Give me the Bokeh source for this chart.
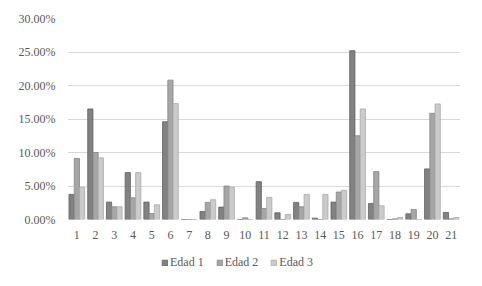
from bokeh.plotting import figure
from bokeh.layouts import column
from bokeh.models import ColumnDataSource, FixedTicker, NumeralTickFormatter, Legend, LegendItem, Range1d
from bokeh.transform import dodge
from bokeh.embed import file_html
from bokeh.resources import INLINE

categories = list(range(1, 22))
edad1 = [3.75, 16.5, 2.6, 7.0, 2.6, 14.6, 0.0, 1.2, 1.85, 0.0, 5.65, 1.0, 2.55, 0.2, 2.6, 25.2, 2.4, 0.0, 0.85, 7.55, 1.05]
edad2 = [9.1, 10.0, 1.9, 3.25, 0.9, 20.8, 0.0, 2.55, 5.0, 0.25, 1.65, 0.0, 1.9, 0.0, 4.1, 12.5, 7.15, 0.1, 1.5, 15.85, 0.1]
edad3 = [4.8, 9.2, 1.9, 7.0, 2.2, 17.3, 0.0, 2.95, 4.8, 0.0, 3.3, 0.75, 3.75, 3.75, 4.35, 16.5, 2.05, 0.3, 0.0, 17.25, 0.3]
series_names = ["Edad 1", "Edad 2", "Edad 3"]
y_ticks = [0.0, 0.05, 0.10, 0.15, 0.20, 0.25, 0.30]

fills = ["#828282", "#a6a6a6", "#cbcbcb"]
edges = ["#5f5f5f", "#858585", "#a9a9a9"]
font = "Liberation Serif"

src = ColumnDataSource(dict(
    x=categories,
    e1=[v / 100 for v in edad1],
    e2=[v / 100 for v in edad2],
    e3=[v / 100 for v in edad3],
))

p = figure(width=466, height=250, output_backend="svg", toolbar_location=None,
           x_range=Range1d(0.5, 21.5), y_range=Range1d(0, 0.30))
p.min_border_left = 67
p.min_border_right = 6
p.min_border_top = 18
p.min_border_bottom = 31
p.outline_line_color = None
p.background_fill_color = "white"
p.border_fill_color = "white"

bw = 0.28
for i, col in enumerate(["e1", "e2", "e3"]):
    p.vbar(x=dodge("x", (i - 1) * bw, range=p.x_range), top=col, width=bw, source=src,
           fill_color=fills[i], line_color=edges[i], line_width=0.8)

p.xgrid.visible = False
p.ygrid.grid_line_color = "#d9d9d9"
p.ygrid.grid_line_width = 1
p.ygrid.ticker = FixedTicker(ticks=y_ticks)

p.yaxis.ticker = FixedTicker(ticks=y_ticks)
p.yaxis.formatter = NumeralTickFormatter(format="0.00%")
p.xaxis.ticker = FixedTicker(ticks=categories)
for ax in (p.xaxis, p.yaxis):
    ax.axis_line_color = None
    ax.major_tick_line_color = None
    ax.minor_tick_line_color = None
    ax.major_tick_out = 0
    ax.major_tick_in = 0
    ax.minor_tick_out = 0
    ax.major_label_text_font = font
    ax.major_label_text_font_size = "12px"
    ax.major_label_text_color = "#595959"
p.xaxis.major_label_standoff = 11
p.yaxis.major_label_standoff = 12

# legend strip (its frame is aligned with the chart frame by the column layout)
q = figure(width=466, height=20, output_backend="svg", toolbar_location=None,
           x_range=Range1d(-10, -9), y_range=Range1d(-10, -9))
q.min_border_left = 67
q.min_border_right = 6
q.min_border_top = 0
q.min_border_bottom = 0
q.outline_line_color = None
q.axis.visible = False
q.grid.visible = False
leg_renderers = []
for i, col in enumerate(["e1", "e2", "e3"]):
    r = q.vbar(x="x", top=col, width=bw, source=src,
               fill_color=fills[i], line_color=edges[i], line_width=0.8)
    r.visible = False
    leg_renderers.append(r)

legend = Legend(items=[LegendItem(label=n, renderers=[r]) for n, r in zip(series_names, leg_renderers)],
                orientation="horizontal", location=(94, 0))
legend.label_text_font = font
legend.label_text_font_size = "12px"
legend.label_text_color = "#595959"
legend.label_height = 12
legend.glyph_width = 7
legend.glyph_height = 7
legend.label_standoff = 2
legend.spacing = 12
legend.padding = 0
legend.margin = 0
legend.border_line_color = None
legend.background_fill_alpha = 0
legend.inactive_fill_alpha = 0
q.add_layout(legend, "center")

layout = column(p, q, spacing=0)
open("out.html", "w").write(file_html(layout, INLINE))
